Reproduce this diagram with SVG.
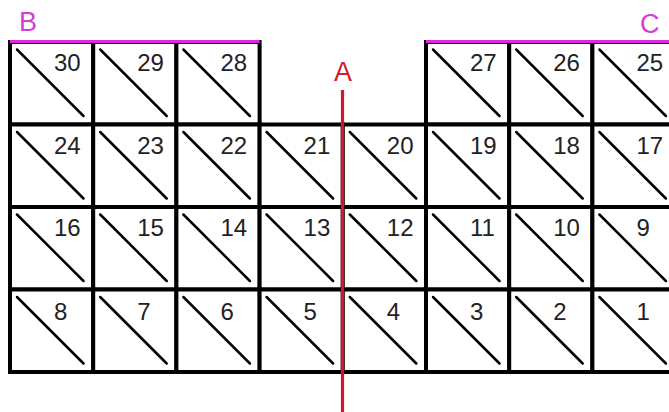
<svg xmlns="http://www.w3.org/2000/svg" xmlns:xlink="http://www.w3.org/1999/xlink" width="669" height="412" viewBox="0 0 669 412">
<style>
.box{fill:#fff;stroke:#000;stroke-width:4}
.diag{stroke:#000;stroke-width:2.5;stroke-linecap:round}
.num{font-family:"Liberation Sans",Arial,sans-serif;font-size:24px;fill:#222}
.lbl{font-family:"Liberation Sans",Arial,sans-serif;font-size:27px}
.mag{fill:#d23ed6}
</style>
<defs>
<g id="cell">
<rect class="box" x="0" y="0" width="83.2" height="82.5"/>
<line class="diag" x1="7" y1="7.5" x2="73.5" y2="74"/>
</g>
</defs>
<rect width="669" height="412" fill="#fff"/>
<g id="cells">
<g id="c30" transform="translate(10,42)"><use href="#cell"/><text class="num" x="44" y="29">30</text></g>
<g id="c29" transform="translate(93.2,42)"><use href="#cell"/><text class="num" x="44" y="29">29</text></g>
<g id="c28" transform="translate(176.4,42)"><use href="#cell"/><text class="num" x="44" y="29">28</text></g>
<g id="c27" transform="translate(426,42)"><use href="#cell"/><text class="num" x="44" y="29">27</text></g>
<g id="c26" transform="translate(509.2,42)"><use href="#cell"/><text class="num" x="44" y="29">26</text></g>
<g id="c25" transform="translate(592.4,42)"><use href="#cell"/><text class="num" x="44" y="29">25</text></g>

<g id="c24" transform="translate(10,124.5)"><use href="#cell"/><text class="num" x="44" y="29">24</text></g>
<g id="c23" transform="translate(93.2,124.5)"><use href="#cell"/><text class="num" x="44" y="29">23</text></g>
<g id="c22" transform="translate(176.4,124.5)"><use href="#cell"/><text class="num" x="44" y="29">22</text></g>
<g id="c21" transform="translate(259.6,124.5)"><use href="#cell"/><text class="num" x="44" y="29">21</text></g>
<g id="c20" transform="translate(342.8,124.5)"><use href="#cell"/><text class="num" x="44" y="29">20</text></g>
<g id="c19" transform="translate(426,124.5)"><use href="#cell"/><text class="num" x="44" y="29">19</text></g>
<g id="c18" transform="translate(509.2,124.5)"><use href="#cell"/><text class="num" x="44" y="29">18</text></g>
<g id="c17" transform="translate(592.4,124.5)"><use href="#cell"/><text class="num" x="44" y="29">17</text></g>

<g id="c16" transform="translate(10,207)"><use href="#cell"/><text class="num" x="44" y="29">16</text></g>
<g id="c15" transform="translate(93.2,207)"><use href="#cell"/><text class="num" x="44" y="29">15</text></g>
<g id="c14" transform="translate(176.4,207)"><use href="#cell"/><text class="num" x="44" y="29">14</text></g>
<g id="c13" transform="translate(259.6,207)"><use href="#cell"/><text class="num" x="44" y="29">13</text></g>
<g id="c12" transform="translate(342.8,207)"><use href="#cell"/><text class="num" x="44" y="29">12</text></g>
<g id="c11" transform="translate(426,207)"><use href="#cell"/><text class="num" x="44" y="29">11</text></g>
<g id="c10" transform="translate(509.2,207)"><use href="#cell"/><text class="num" x="44" y="29">10</text></g>
<g id="c9" transform="translate(592.4,207)"><use href="#cell"/><text class="num" x="44" y="29">9</text></g>

<g id="c8" transform="translate(10,289.5)"><use href="#cell"/><text class="num" x="44" y="30">8</text></g>
<g id="c7" transform="translate(93.2,289.5)"><use href="#cell"/><text class="num" x="44" y="30">7</text></g>
<g id="c6" transform="translate(176.4,289.5)"><use href="#cell"/><text class="num" x="44" y="30">6</text></g>
<g id="c5" transform="translate(259.6,289.5)"><use href="#cell"/><text class="num" x="44" y="30">5</text></g>
<g id="c4" transform="translate(342.8,289.5)"><use href="#cell"/><text class="num" x="44" y="30">4</text></g>
<g id="c3" transform="translate(426,289.5)"><use href="#cell"/><text class="num" x="44" y="30">3</text></g>
<g id="c2" transform="translate(509.2,289.5)"><use href="#cell"/><text class="num" x="44" y="30">2</text></g>
<g id="c1" transform="translate(592.4,289.5)"><use href="#cell"/><text class="num" x="44" y="30">1</text></g>
</g>
<g id="edgeB">
<line x1="10" y1="41.5" x2="259.6" y2="41.5" stroke="#e024e8" stroke-width="3"/>
<text class="lbl mag" x="19" y="31">B</text>
</g>
<g id="edgeC">
<line x1="426" y1="41.5" x2="669" y2="41.5" stroke="#e024e8" stroke-width="3"/>
<text class="lbl mag" x="640" y="33">C</text>
</g>
<g id="lineA">
<line x1="342.5" y1="90" x2="342.5" y2="412" stroke="#c81a28" stroke-width="3.2"/>
<text class="lbl" x="343" y="81" text-anchor="middle" fill="#d0202e">A</text>
</g>
</svg>
